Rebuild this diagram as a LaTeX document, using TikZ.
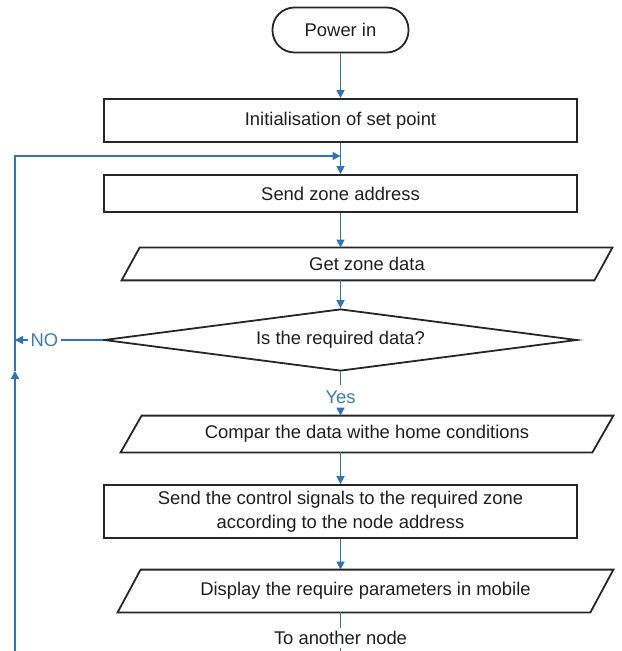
\documentclass[tikz,border=0pt]{standalone}
\usepackage{fontspec}
\setmainfont{Liberation Sans}
\usetikzlibrary{arrows.meta,shapes.geometric}

\definecolor{flowblue}{RGB}{46,117,182}
\definecolor{labelblue}{RGB}{58,125,181}
\definecolor{ink}{RGB}{30,30,30}

% outline of a slanted input/output box around an invisible node
\newcommand{\slantbox}[2]{%
  \draw[outline] ([xshift=#2]#1.north west) -- (#1.north east)
    -- ([xshift=-#2]#1.south east) -- (#1.south west) -- cycle;}

\begin{document}
\begin{tikzpicture}[x=0.5pt,y=-0.5pt,
  every node/.style={font=\fontsize{9.2}{12}\selectfont, text=ink},
  outline/.style={draw=black!85, line width=0.9pt},
  procbox/.style={outline, rectangle, minimum width=236.5pt, inner sep=0pt, align=center},
  iobox/.style={rectangle, inner sep=0pt},
  terminal/.style={outline, rectangle, rounded corners=11pt, minimum width=68pt, minimum height=22.5pt},
  decisionbox/.style={outline, diamond, aspect=7.6, minimum width=236.5pt, minimum height=31pt, inner sep=0pt},
  flowlabel/.style={text=labelblue, inner xsep=1pt, inner ysep=2.5pt},
  plainlabel/.style={inner xsep=1pt, inner ysep=1.5pt},
  line/.style={draw=flowblue, line width=0.75pt},
  flow/.style={line, -{Triangle[length=4pt,width=4pt]}}
]
\useasboundingbox (0,0) rectangle (621,651);

% process steps
\node[terminal] (power) at (340.5,30) {Power in};
\node[procbox, minimum height=21.5pt] (init) at (340.5,120.5) {Initialisation of set point};
\node[procbox, minimum height=18.5pt] (send) at (340.5,193.5) {Send zone address};
\node[iobox, minimum width=245pt, minimum height=16pt] (getdata) at (367,264) {Get zone data};
\slantbox{getdata}{9pt}
\node[decisionbox] (decision) at (340.5,340) {Is the required data?};
\node[iobox, minimum width=246pt, minimum height=18pt] (compar) at (367,434) {Compar the data withe home conditions};
\slantbox{compar}{10.5pt}
\node[procbox, minimum height=26.5pt] (control) at (340.5,511.5)
  {Send the control signals to the required zone\\according to the node address};
\node[iobox, minimum width=247.5pt, minimum height=21pt] (display) at (365.5,591) {Display the require parameters in mobile};
\slantbox{display}{11.5pt}

% labels on the connectors
\node[flowlabel] (yes) at (340.5,397) {Yes};
\node[flowlabel] (no) at (44.5,340) {NO};
\node[plainlabel] (another) at (340.5,638) {To another node};

% points of the return loop
\coordinate (join) at (340.5,156);
\coordinate (looptop) at (15,156);
\coordinate (loopmid) at (15,371);
\coordinate (loopbot) at (15,655);
\coordinate (exit) at (340.5,655);

% main flow
\draw[flow] (power) -- (init);
\draw[flow] (init) -- (send);
\draw[flow] (send.south) -- (send.south |- getdata.north);
\draw[flow] (send.south |- getdata.south) -- (decision.north);
\draw[line] (decision.south) -- (yes.north);
\draw[flow] (yes.south) -- (yes.south |- compar.north);
\draw[flow] (yes.south |- compar.south) -- (control.north);
\draw[flow] (control.south) -- (control.south |- display.north);
\draw[line] (control.south |- display.south) -- (another.north);
\draw[line] (another.south) -- (exit);

% "NO" branch and return loop
\draw[line] (decision.west) -- (no.east);
\draw[flow] (no.west) -- (no.west -| looptop);
\draw[flow] (loopbot) -- (loopmid);
\draw[flow] (loopmid) -- (looptop) -- (join);
\end{tikzpicture}
\end{document}
